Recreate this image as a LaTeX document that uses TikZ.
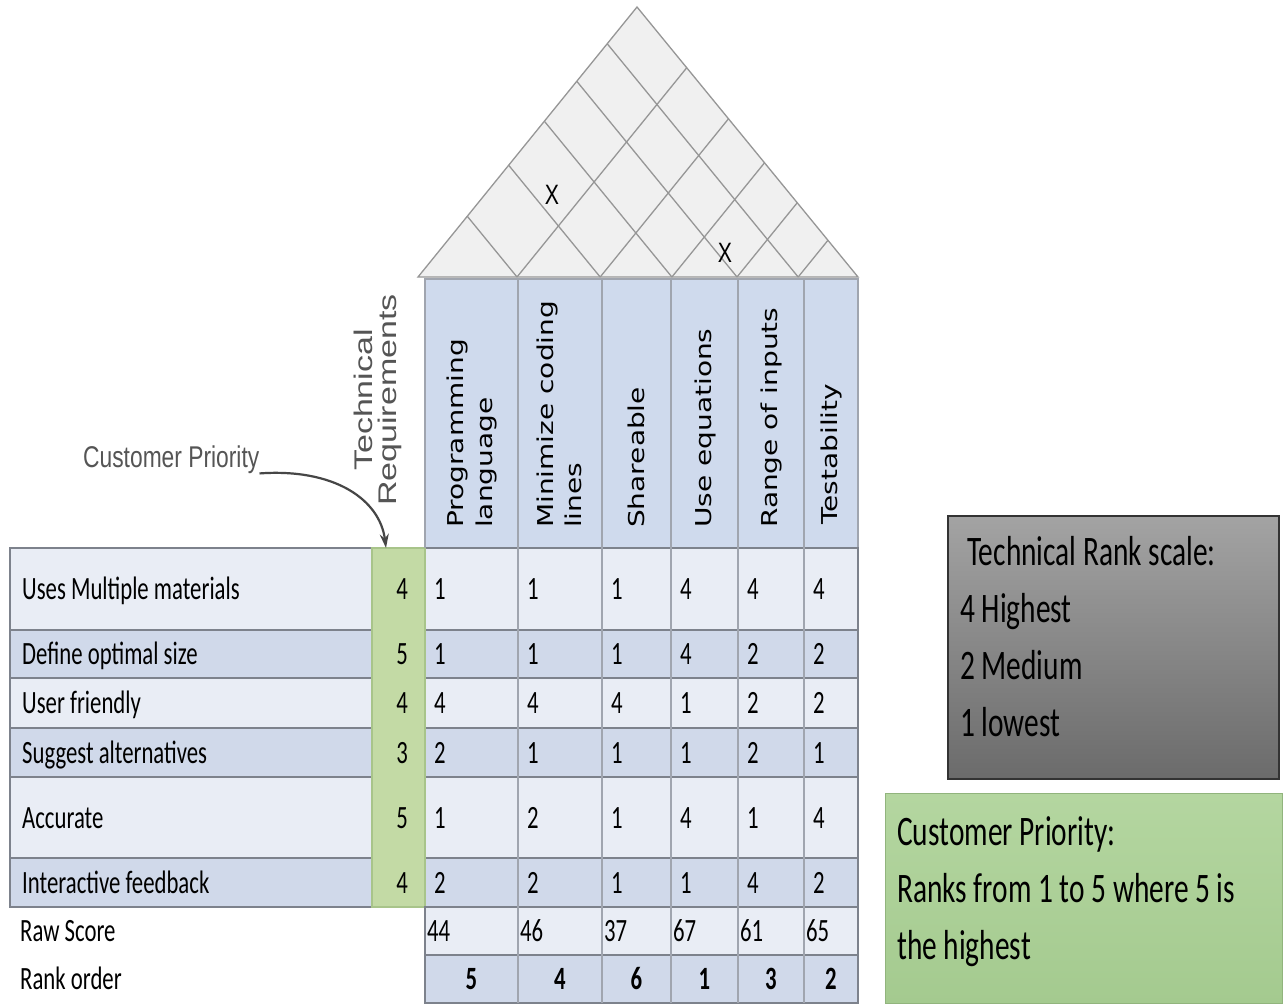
\documentclass[tikz,border=0pt]{standalone}
\usepackage{fontspec}
\usetikzlibrary{arrows.meta,calc}
\setmainfont{Carlito}
\newfontfamily\calibfont[FakeStretch=0.7]{Carlito}
\newfontfamily\arialfont[FakeStretch=0.76]{Liberation Sans}
\newfontfamily\techfont{Liberation Sans}
\newfontfamily\verdfont{DejaVu Sans}
\definecolor{rowlt}{RGB}{233,237,245}
\definecolor{rowbl}{RGB}{208,217,234}
\definecolor{hdrbl}{RGB}{207,218,237}
\definecolor{prigreen}{RGB}{195,218,165}
\definecolor{prigreenl}{RGB}{168,196,138}
\definecolor{gridc}{RGB}{125,130,140}
\definecolor{vgridc}{RGB}{160,165,175}
\definecolor{roofc}{RGB}{240,240,240}
\definecolor{roofl}{RGB}{150,150,150}
\definecolor{labgray}{RGB}{85,85,85}
\definecolor{arrowgray}{RGB}{70,70,70}
% rows: top/bottom/fill/label/priority/six values
\def\qfdrows{548/630/rowlt/Uses Multiple materials/4/1/1/1/4/4/4,
  630/678/rowbl/Define optimal size/5/1/1/1/4/2/2,
  678/728/rowlt/User friendly/4/4/4/4/1/2/2,
  728/777/rowbl/Suggest alternatives/3/2/1/1/1/2/1,
  777/858/rowlt/Accurate/5/1/2/1/4/1/4,
  858/907/rowbl/Interactive feedback/4/2/2/1/1/4/2}
\tikzset{
  cell/.style={inner sep=0pt, font=\calibfont\fontsize{32.5}{38}\selectfont, text height=24pt, text depth=3pt},
  lab/.style={cell, anchor=west},
  num/.style={cell, anchor=west},
  prinum/.style={cell, anchor=east},
  ranknum/.style={cell, font=\calibfont\bfseries\fontsize{32.5}{38}\selectfont},
  hdr/.style={rotate=90, yscale=0.78, anchor=west, align=left, inner sep=0pt, font=\verdfont\fontsize{28}{36}\selectfont},
  techlab/.style={rotate=90, yscale=0.75, align=center, inner sep=0pt, text=labgray, font=\techfont\fontsize{34}{31}\selectfont},
  cplabel/.style={inner sep=0pt, text=labgray, font=\arialfont\fontsize{30}{36}\selectfont},
  cparrow/.style={draw=arrowgray, line width=2.2pt, -{Stealth[length=14pt, width=9pt]}},
  xmark/.style={inner sep=0pt, font=\arialfont\fontsize{28}{32}\selectfont},
  roof/.style={fill=roofc, draw=roofl, line width=1.3pt},
  roofline/.style={draw=roofl, line width=1.3pt},
  hline/.style={draw=gridc, line width=1.6pt},
  vline/.style={draw=vgridc, line width=1.3pt},
  rankbox/.style={draw=black!80, line width=1.5pt, top color=black!36, bottom color=black!58},
  cpbox/.style={draw={rgb,255:red,145;green,180;blue,125}, line width=1.2pt,
    top color={rgb,255:red,180;green,214;blue,160}, bottom color={rgb,255:red,164;green,202;blue,143}},
  boxtxt/.style={inner sep=0pt, align=left, font=\calibfont\fontsize{42}{57}\selectfont}
}
\begin{document}
\begin{tikzpicture}[x=1pt, y=-1pt]
  \useasboundingbox[fill=white] (0,0) rectangle (1285,1005);

  % roof
  \coordinate (rL) at (418,277);
  \coordinate (rR) at (858,277);
  \coordinate (rA) at (637,7);
  \filldraw[roof] (rL) -- (rA) -- (rR) -- cycle;
  \foreach \f in {0.225,0.414,0.577,0.725,0.864}{
    \pgfmathsetmacro\g{1-\f}
    \draw[roofline] ($(rL)!\f!(rR)$) -- ($(rL)!\f!(rA)$);
    \draw[roofline] ($(rL)!\f!(rR)$) -- ($(rR)!\g!(rA)$);
  }
  \node[xmark] (x1) at (552,195) {X};
  \node[xmark] (x2) at (725,253) {X};

  % header of technical requirements
  \filldraw[fill=hdrbl, vline] (425,279) rectangle (858,548);

  % rows
  \foreach \ya/\yb/\rc/\txt/\p/\va/\vb/\vc/\vd/\ve/\vf in \qfdrows{
    \filldraw[fill=\rc, hline] (10,\ya) rectangle (858,\yb);
  }
  \filldraw[fill=prigreen, draw=prigreenl, line width=1.2pt] (372,548) rectangle (425,907);
  \filldraw[fill=rowlt, hline] (425,907) rectangle (858,955);
  \filldraw[fill=rowbl, hline] (425,955) rectangle (858,1003);
  \foreach \x in {518,602,671,738,804}
    \draw[vline] (\x,279) -- (\x,1003);
  \draw[vline] (425,279) -- (425,548);

  % header texts
  \node[hdr] (h1) at (472,528) {Programming\\language};
  \node[hdr] (h2) at (559,528) {Minimize coding\\lines};
  \node[hdr] (h3) at (636,528) {Shareable};
  \node[hdr] (h4) at (705,528) {Use equations};
  \node[hdr] (h5) at (771,528) {Range of inputs};
  \node[hdr] (h6) at (831,525) {Testability};
  \node[techlab] (tech) at (378,400) {Technical\\Requirements};

  % customer priority pointer
  \node[cplabel, anchor=base west] (cplab) at (83,467) {Customer Priority};
  \coordinate (cptip) at (386,548);
  \draw[cparrow] (cplab.south east) .. controls (335,468) and (380,500) .. (cptip);

  % row texts
  \foreach \ya/\yb/\rc/\txt/\p/\va/\vb/\vc/\vd/\ve/\vf [count=\r] in \qfdrows{
    \pgfmathsetmacro\ym{(\ya+\yb)/2}
    \node[lab] (lab\r) at (22,\ym) {\txt};
    \node[prinum] (pri\r) at (408,\ym) {\p};
    \foreach \x/\v [count=\c] in {425/\va,518/\vb,602/\vc,671/\vd,738/\ve,804/\vf}
      \node[num] (v\r\c) at (\x+9,\ym) {\v};
  }
  \node[lab] (rawlab) at (20,931) {Raw Score};
  \node[lab] (ranklab) at (20,979) {Rank order};
  \foreach \x/\v [count=\c] in {425/44,518/46,602/37,671/67,738/61,804/65}
    \node[num] (raw\c) at (\x+2,931) {\v};
  \foreach \x/\v [count=\c] in {471.5/5,560/4,636.5/6,704.5/1,771/3,831/2}
    \node[ranknum] (rank\c) at (\x,979) {\v};

  % legends
  \node[rankbox, minimum width=331pt, minimum height=263pt, anchor=north west] (rbox) at (947,515) {};
  \node[boxtxt, anchor=north west] (rtxt) at (960,536) {\hspace{7pt}Technical Rank scale:\\4 Highest\\2 Medium\\1 lowest};
  \node[cpbox, minimum width=397pt, minimum height=210pt, anchor=north west] (cbox) at (885,793) {};
  \node[boxtxt, anchor=north west] (ctxt) at (897,816) {Customer Priority:\\Ranks from 1 to 5 where 5 is\\the highest};
\end{tikzpicture}
\end{document}
